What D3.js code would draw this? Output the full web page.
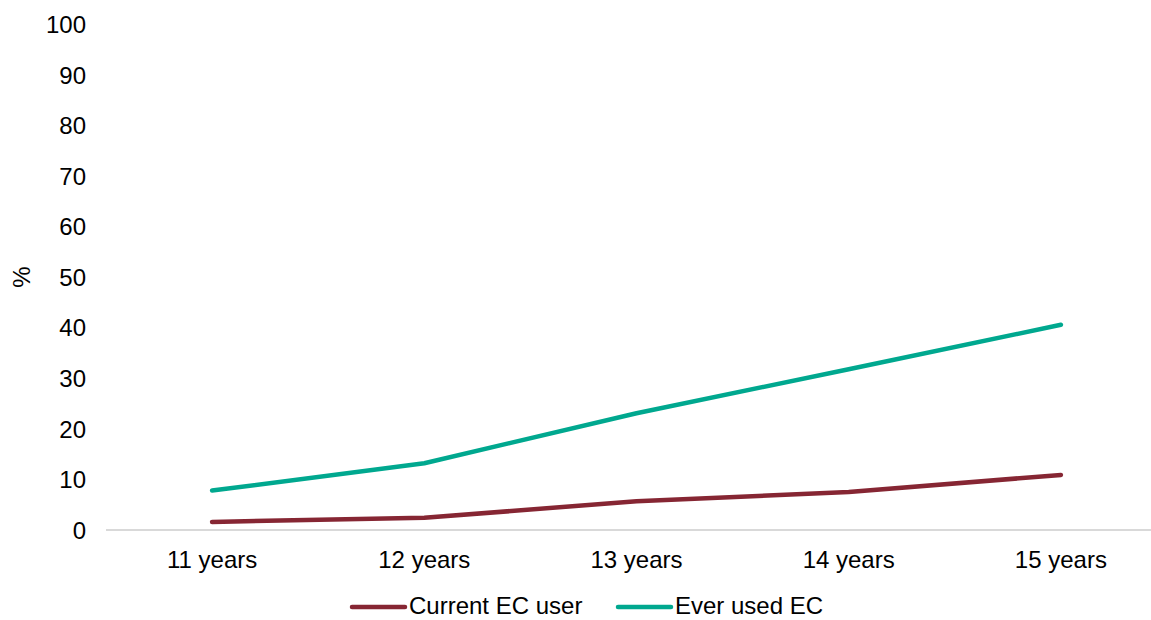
<!DOCTYPE html>
<html><head><meta charset="utf-8">
<script src="https://cdn.jsdelivr.net/npm/d3@7"></script>
<style>body{margin:0;background:#fff;} text{font-family:"Liberation Sans",Arial,sans-serif;fill:#000;}</style>
</head><body>
<svg id="c" width="1151" height="620"></svg>
<script>
const categories = ["11 years","12 years","13 years","14 years","15 years"];
const currentUser = [1.6, 2.4, 5.7, 7.5, 10.9];
const everUsed = [7.8, 13.2, 23.1, 31.8, 40.6];
const yTicks = [0,10,20,30,40,50,60,70,80,90,100];
const seriesNames = ["Current EC user","Ever used EC"];
const colors = ["#862633","#00A88F"];

const svg = d3.select("#c");
const x = d3.scalePoint().domain(categories).range([106,1167]).padding(0.5);
const y = d3.scaleLinear().domain([0,100]).range([530,24.5]);
const fs = 24;

svg.append("line").attr("x1",106).attr("x2",1167).attr("y1",y(0)).attr("y2",y(0))
  .attr("stroke","#d9d9d9").attr("stroke-width",2);

svg.selectAll(".yt").data(yTicks).enter().append("text")
  .attr("x",86).attr("y",d=>y(d)).attr("dy","0.36em").attr("text-anchor","end")
  .attr("font-size",fs).text(d=>d);

svg.selectAll(".xt").data(categories).enter().append("text")
  .attr("x",d=>x(d)).attr("y",559).attr("dy","0.36em").attr("text-anchor","middle")
  .attr("font-size",fs).text(d=>d);

svg.append("text").attr("transform","translate(30,277) rotate(-90)")
  .attr("text-anchor","middle").attr("font-size",fs).text("%");

const line = d3.line().x((d,i)=>x(categories[i])).y(d=>y(d)).curve(d3.curveLinear);
[currentUser, everUsed].forEach((s,k)=>{
  svg.append("path").datum(s).attr("d",line).attr("fill","none")
    .attr("stroke",colors[k]).attr("stroke-width",4.5).attr("stroke-linecap","round").attr("stroke-linejoin","round");
});

const legX = [352, 618];
const legY = 606;
seriesNames.forEach((n,k)=>{
  svg.append("line").attr("x1",legX[k]).attr("x2",legX[k]+53).attr("y1",legY+1).attr("y2",legY+1)
    .attr("stroke",colors[k]).attr("stroke-width",4.5).attr("stroke-linecap","round");
  svg.append("text").attr("x",legX[k]+57).attr("y",legY).attr("dy","0.32em")
    .attr("font-size",fs).text(n);
});
</script>
</body></html>
